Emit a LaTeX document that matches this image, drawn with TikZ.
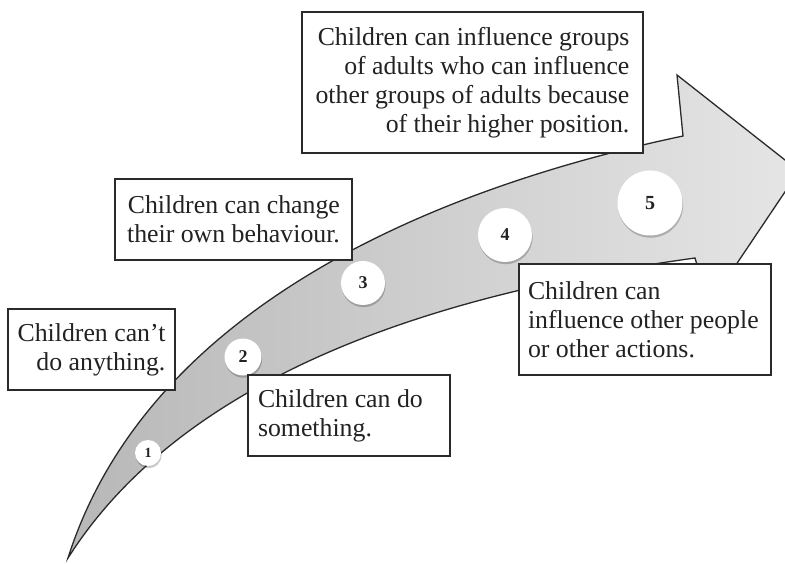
\documentclass[tikz,border=0pt]{standalone}
\usepackage{fontspec}
\setmainfont{Liberation Serif}
\usetikzlibrary{shadows}
\definecolor{ink}{HTML}{222222}
\definecolor{edge}{HTML}{2A2A2A}
\begin{document}
\begin{tikzpicture}[x=1pt,y=-1pt,
  label box/.style={draw=edge, line width=1.3pt, fill=white, text=ink,
    inner sep=0pt, font=\fontsize{25.8}{29}\selectfont},
  stage/.style={circle, fill=white, draw=none,
    inner sep=0pt, text=ink,
    drop shadow={shadow xshift=0.6pt, shadow yshift=-2.2pt,
      opacity=0.22, fill=black}},
]
\clip (0,0) rectangle (785,564);
\fill[white] (0,0) rectangle (785,564);

% curved progress arrow
\coordinate (tail) at (68,558);
\coordinate (notchup) at (683,136);
\coordinate (headtop) at (677,75);
\coordinate (tip) at (799,171);
\coordinate (headbot) at (709,305);
\coordinate (notchlow) at (695,258);
\path[draw=edge, line width=1.3pt, line join=miter,
      left color=black!28, right color=black!10]
  (tail) .. controls (150,300) and (450,185) .. (notchup)
  -- (headtop) -- (tip) -- (headbot) -- (notchlow)
  .. controls (500,285) and (200,350) .. (tail) -- cycle;

% numbered stages along the arrow
\node[stage, minimum size=26pt, font=\bfseries\fontsize{14}{14}\selectfont] (s1) at (148,453) {1};
\node[stage, minimum size=37pt, font=\bfseries\fontsize{18}{18}\selectfont] (s2) at (243,357) {2};
\node[stage, minimum size=44pt, font=\bfseries\fontsize{18}{18}\selectfont] (s3) at (363,283) {3};
\node[stage, minimum size=54pt, font=\bfseries\fontsize{18}{18}\selectfont] (s4) at (505,235) {4};
\node[stage, minimum size=65pt, font=\bfseries\fontsize{20}{20}\selectfont] (s5) at (650,203) {5};

% stage descriptions
\node[label box, align=right, minimum width=167pt, minimum height=81pt]
  (nothing) at (91.5,349.5) {Children can’t\\do anything.};
\node[label box, align=flush left, text width=182pt, inner xsep=10pt, minimum height=81pt]
  (something) at (349,415.5) {Children can do\\something.};
\node[label box, align=right, minimum width=237pt, minimum height=81pt]
  (behaviour) at (233.5,219.5) {Children can change\\their own behaviour.};
\node[label box, align=flush left, text width=234pt, inner xsep=9pt, minimum height=111pt]
  (others) at (645,319.5) {Children can\\influence other people\\or other actions.};
\node[label box, align=right, minimum width=341pt, minimum height=141pt]
  (groups) at (472.5,82.5) {Children can influence groups\\of adults who can influence\\other groups of adults because\\of their higher position.};
\end{tikzpicture}
\end{document}
